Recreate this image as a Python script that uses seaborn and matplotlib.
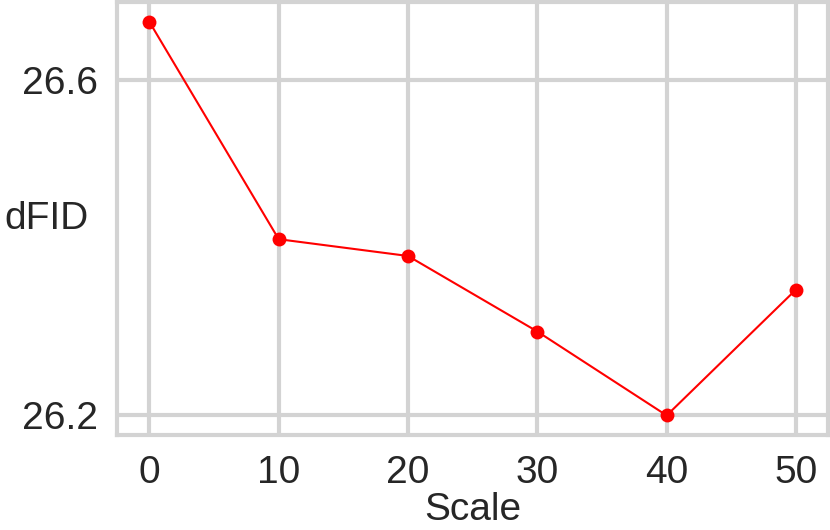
import numpy as np
import pandas as pd
import matplotlib
matplotlib.use("Agg")
import matplotlib.pyplot as plt
import seaborn as sns

# datos
scale = [0, 10, 20, 30, 40, 50]
dfid = [26.669, 26.410, 26.390, 26.300, 26.200, 26.350]
yticks = [26.2, 26.6]

sns.set_theme(style="whitegrid")
plt.rcParams['font.family'] = ['Liberation Sans', 'DejaVu Sans']
plt.rcParams['grid.color'] = '#d3d3d3'

df = pd.DataFrame({"Scale": scale, "dFID": dfid})

fig = plt.figure(figsize=(8.3, 5.3), dpi=100)
ax = fig.add_axes([0.141, 0.179, 0.857, 0.817])

sns.lineplot(data=df, x="Scale", y="dFID", color="red", marker="o",
             markersize=10, markeredgewidth=0, linewidth=1.5, ax=ax)

ax.set_xticks(scale)
ax.set_yticks(yticks)
ax.set_yticklabels([f"{v:.1f}" for v in yticks])
ax.tick_params(labelsize=28, colors="#262626", pad=8)
ax.grid(True, linewidth=3)
for s in ax.spines.values():
    s.set_color('#d3d3d3')
    s.set_linewidth(3)
ax.set_xlabel("Scale", fontsize=28, labelpad=1)
ax.set_ylabel("dFID", fontsize=28, rotation=0, va="center", ha="left")
ax.yaxis.set_label_coords(-0.158, 0.5)

fig.savefig("out.png", dpi=100)
